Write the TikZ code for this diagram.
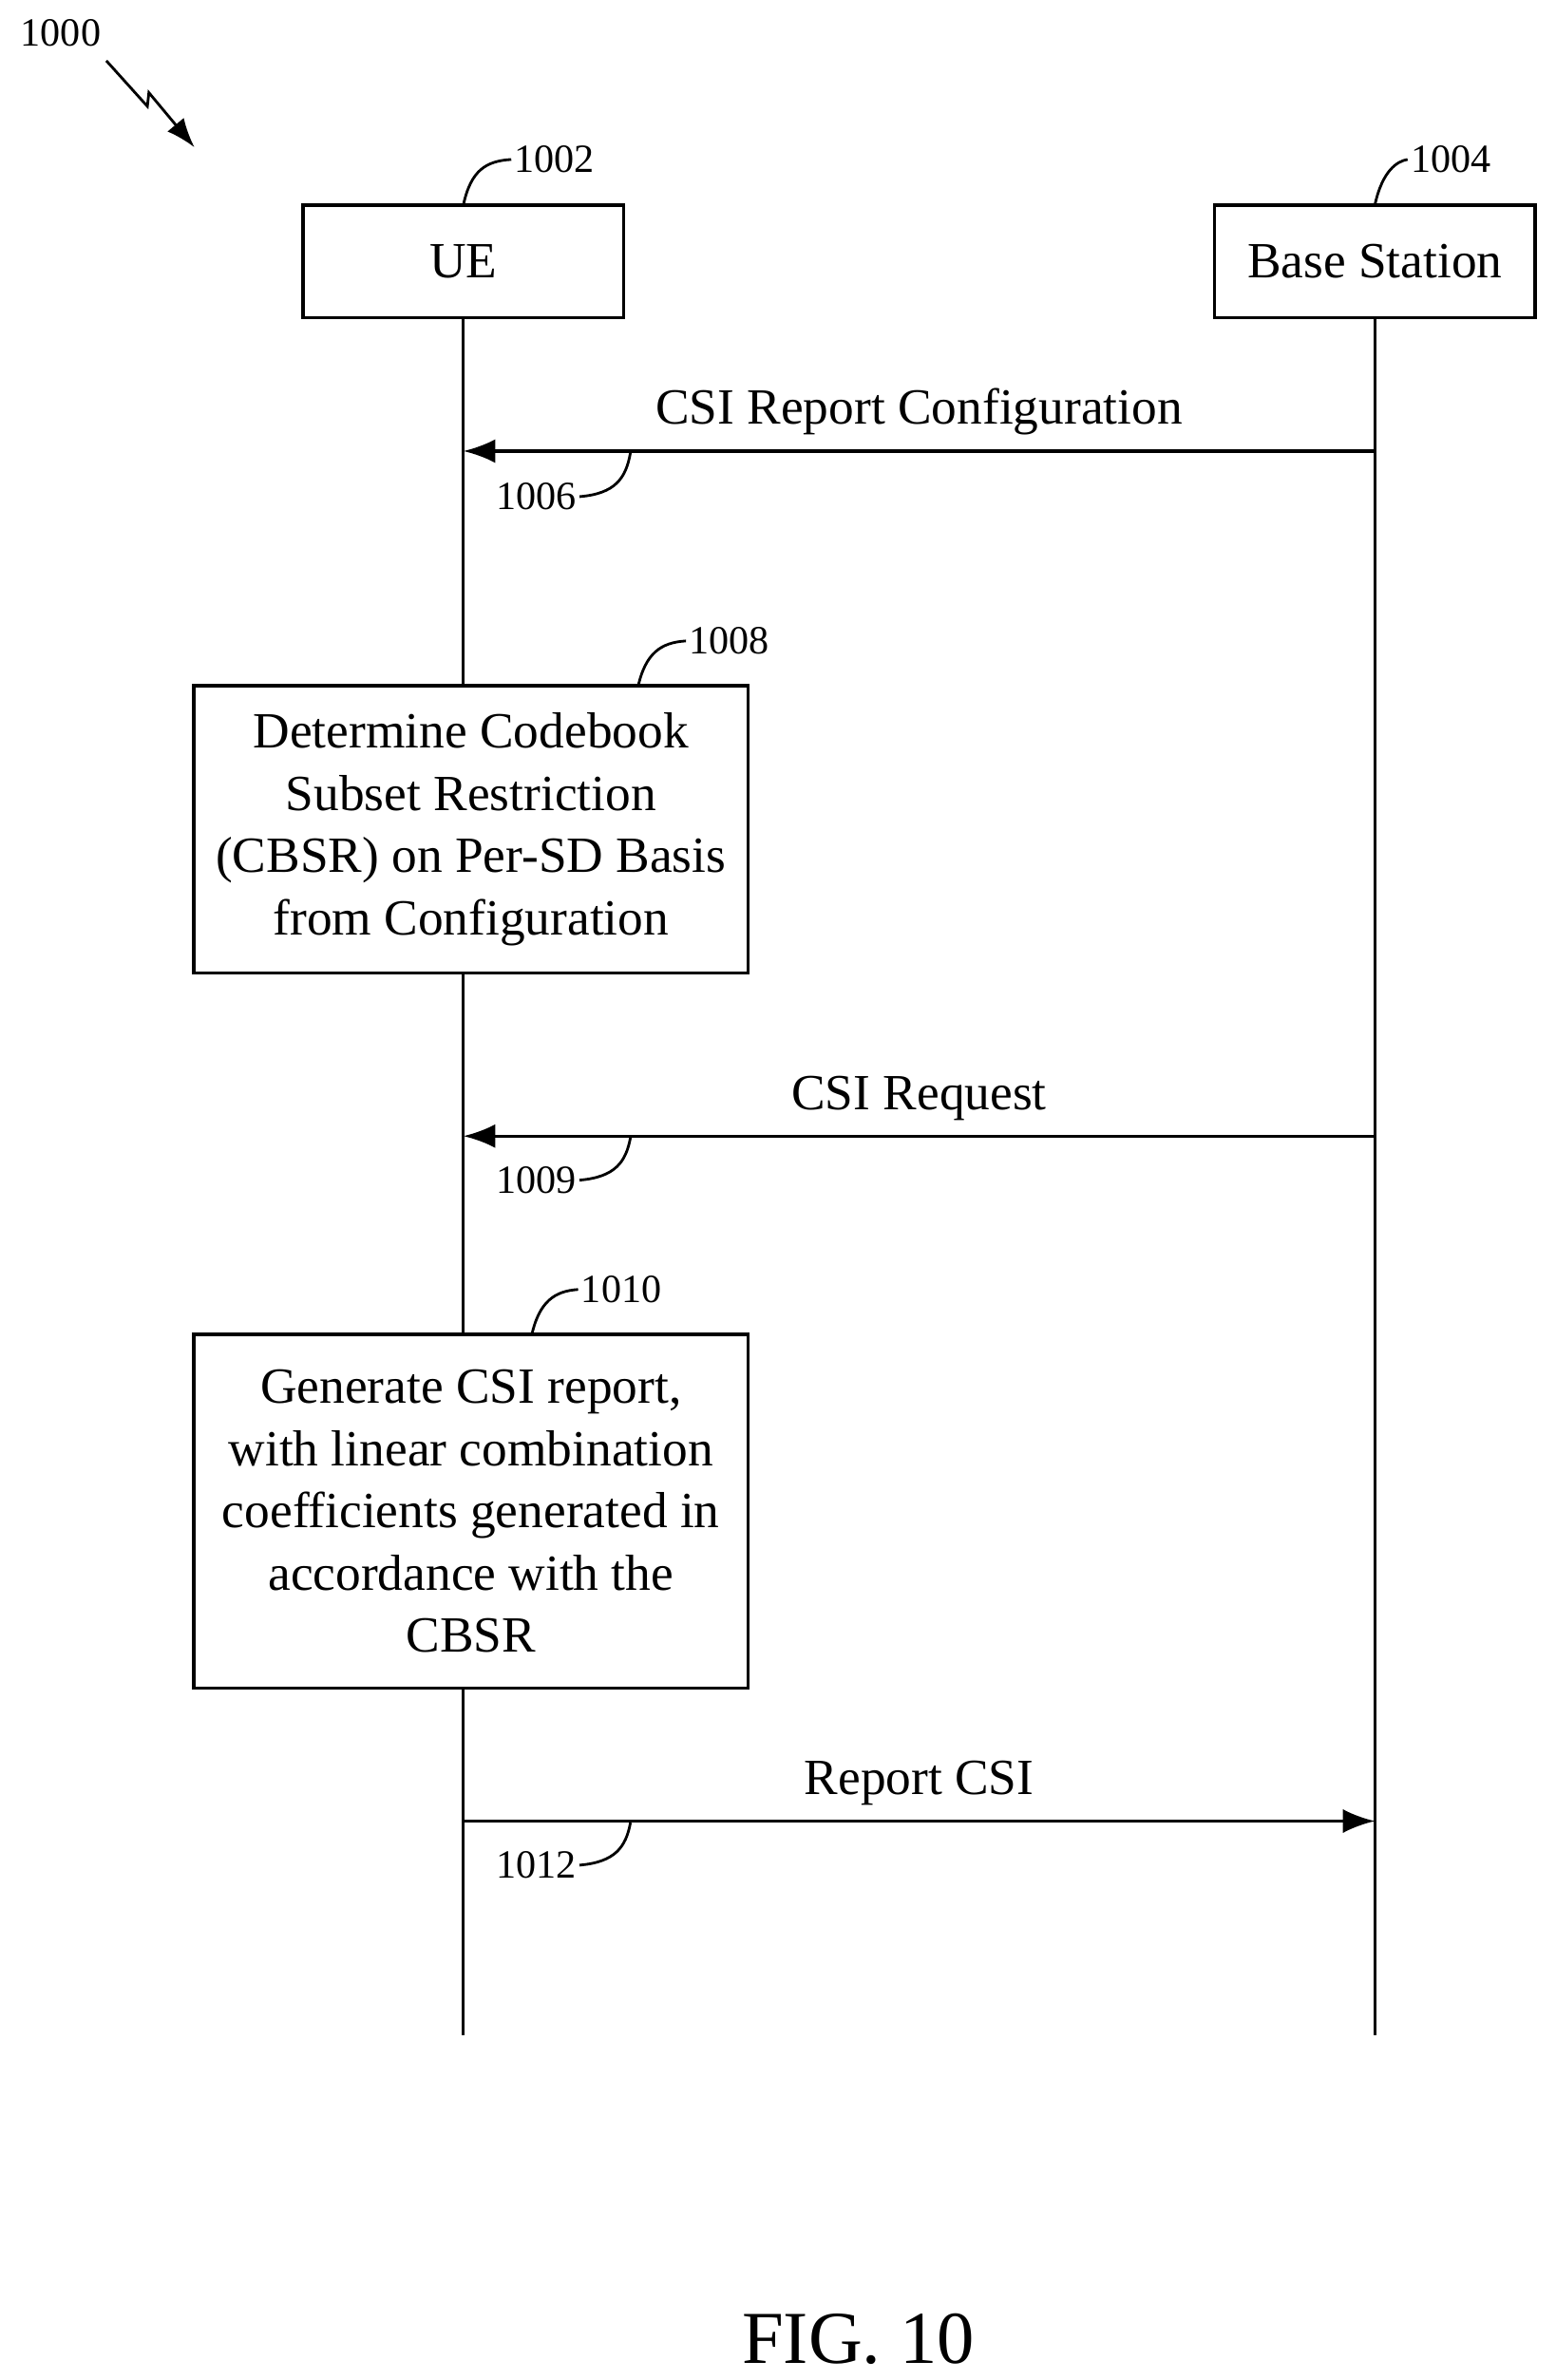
\documentclass[tikz,border=0pt]{standalone}
\usepackage{fontspec}
\setmainfont{Liberation Serif}
\usetikzlibrary{arrows.meta}
\usetikzlibrary{positioning}

\begin{document}
\begin{tikzpicture}[x=0.02cm, y=-0.02cm,
		entity/.style={draw, fill=white, line width=1.2pt, minimum width=4.22cm, minimum height=1.48cm, font=\fontsize{19}{23}\selectfont},
		action/.style={draw, fill=white, line width=1.2pt, minimum width=7.3cm, align=center, font=\fontsize{19}{23.3}\selectfont},
		msg/.style={line width=1.2pt, -{Latex[length=12pt, width=9pt]}},
		lbl/.style={font=\fontsize{19}{23}\selectfont},
		refnum/.style={font=\fontsize{15}{18}\selectfont, inner sep=1pt},
		lead/.style={line width=1pt}]
		\useasboundingbox (0,0) rectangle (1024,1567);

		% lifelines
		\coordinate (uetop) at (305,209);
		\coordinate (bstop) at (905,209);
		\coordinate (ueend) at (305,1340);
		\coordinate (bsend) at (905,1340);
		\draw[line width=1.2pt] (uetop) -- (ueend);
		\draw[line width=1.2pt] (bstop) -- (bsend);

		% entities
		\node[entity] (ue) at (305,172) {UE};
		\node[entity] (bs) at (905,172) {Base Station};
		\node[refnum] (n1002) at (365,105) {1002};
		\node[refnum] (n1004) at (955,105) {1004};
		\draw[lead] (305,135) .. controls (310,112) and (320,106) .. (n1002.west);
		\draw[lead] (905,135) .. controls (910,112) and (920,106) .. (n1004.west);

		% figure number
		\node[refnum] (n1000) at (40,22) {1000};
		\coordinate (zz) at (128,97);
		\draw[line width=1pt, -{Latex[length=11pt, width=8pt]}] (70,40) -- (97,70) -- (98,61) -- (zz);

		% steps
		\coordinate (ue1006) at (305,297);
		\coordinate (bs1006) at (905,297);
		\draw[msg] (bs1006) -- node[lbl, above=2pt, pos=0.5] {CSI Report Configuration} (ue1006);
		\node[refnum] (n1006) at (353,327) {1006};
		\draw[lead] (n1006.east) .. controls (405,325) and (412,315) .. (415,298);

		\node[action, minimum height=3.78cm] (det) at (310,546) {Determine Codebook\\Subset Restriction\\(CBSR) on Per-SD Basis\\from Configuration};
		\node[refnum] (n1008) at (480,422) {1008};
		\draw[lead] (420,452) .. controls (425,430) and (435,423) .. (n1008.west);

		\coordinate (ue1009) at (305,748);
		\coordinate (bs1009) at (905,748);
		\draw[msg] (bs1009) -- node[lbl, above=2pt, pos=0.5] {CSI Request} (ue1009);
		\node[refnum] (n1009) at (353,777) {1009};
		\draw[lead] (n1009.east) .. controls (405,775) and (412,765) .. (415,749);

		\node[action, minimum height=4.66cm] (gen) at (310,995) {Generate CSI report,\\with linear combination\\coefficients generated in\\accordance with the\\CBSR};
		\node[refnum] (n1010) at (409,849) {1010};
		\draw[lead] (350,879) .. controls (355,857) and (365,850) .. (n1010.west);

		\coordinate (ue1012) at (305,1199);
		\coordinate (bs1012) at (905,1199);
		\draw[msg] (ue1012) -- node[lbl, above=2pt, pos=0.5] {Report CSI} (bs1012);
		\node[refnum] (n1012) at (353,1228) {1012};
		\draw[lead] (n1012.east) .. controls (405,1226) and (412,1216) .. (415,1200);

		\node[font=\fontsize{28}{32}\selectfont] (fig) at (565,1540) {FIG. 10};
	\end{tikzpicture}
\end{document}
